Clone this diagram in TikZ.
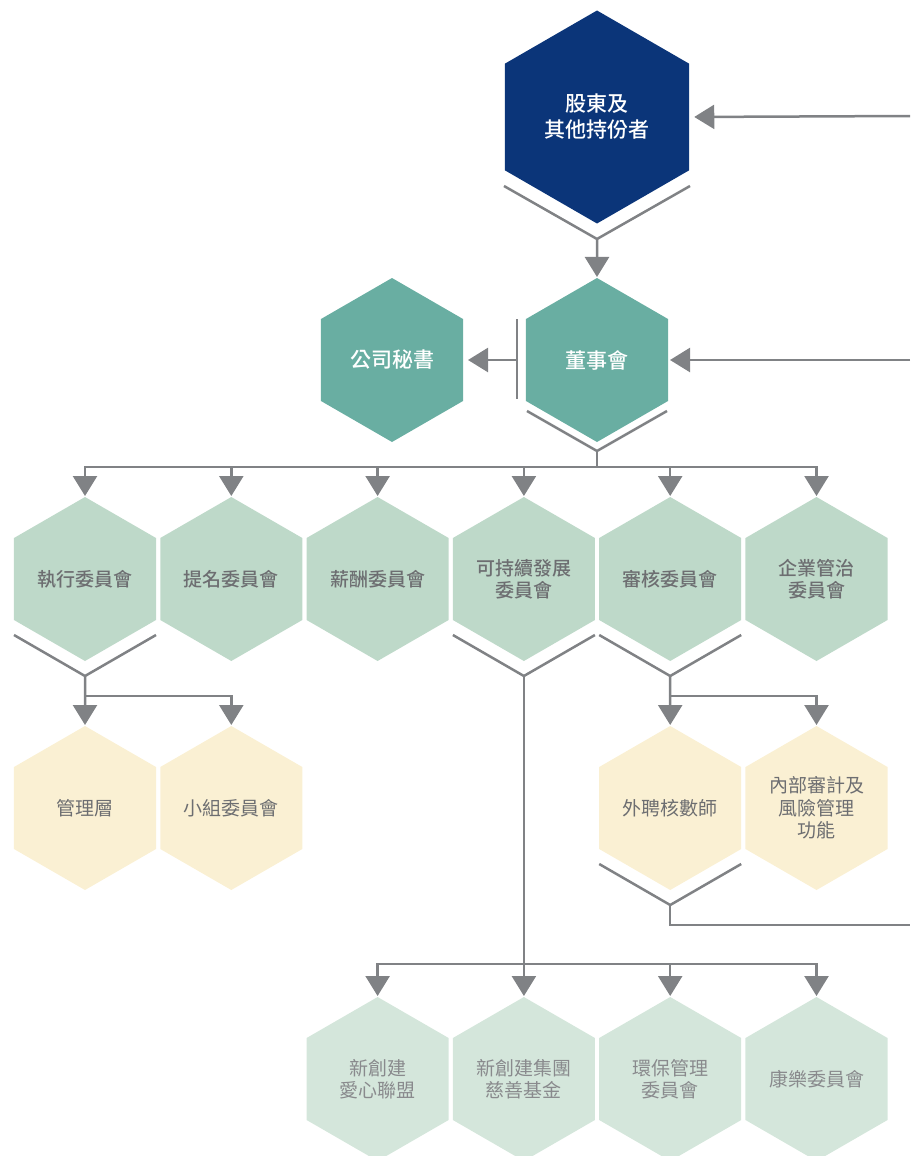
\documentclass[tikz,border=0pt]{standalone}
\usepackage{fontspec}
\setmainfont{Noto Sans CJK TC}[BoldFont={Noto Sans CJK TC Medium}]
\usetikzlibrary{arrows.meta, shapes.geometric, positioning, calc}

\definecolor{hexnavy}{HTML}{0B3579}
\definecolor{hexteal}{HTML}{69AEA2}
\definecolor{hexgreen}{HTML}{BED9C9}
\definecolor{hexyellow}{HTML}{FAF0D3}
\definecolor{hexpale}{HTML}{D4E6DB}
\definecolor{linegrey}{HTML}{808285}
\definecolor{txtgrey}{HTML}{6D6E71}
\definecolor{txtlight}{HTML}{898A8D}

\begin{document}
\begin{tikzpicture}[x=1pt, y=-1pt, on grid, node distance=146.3pt,
	hex/.style={regular polygon, regular polygon sides=6, shape border rotate=30,
		minimum size=164pt, inner sep=0pt, outer sep=0pt, align=center},
	navyhex/.style={hex, fill=hexnavy, minimum size=213pt, text=white,
		font=\fontsize{21}{26}\selectfont\bfseries},
	tealhex/.style={hex, fill=hexteal, text=white, font=\fontsize{21}{26}\selectfont\bfseries},
	greenhex/.style={hex, fill=hexgreen, text=txtgrey, font=\fontsize{19}{22}\selectfont\bfseries},
	yellowhex/.style={hex, fill=hexyellow, text=txtgrey, font=\fontsize{19}{22.5}\selectfont},
	palehex/.style={hex, fill=hexpale, text=txtlight, font=\fontsize{19}{22}\selectfont},
	link/.style={draw=linegrey, line width=2.5pt},
	arr/.style={link, shorten >=1pt, -{Triangle[width=24pt,length=20pt]}}]
	\useasboundingbox (0,0) rectangle (910,1156);

	\node[navyhex] (sh) at (597,117) {股東及\\其他持份者};
	\node[tealhex, below=243pt of sh] (bod) {董事會};
	\node[tealhex, left=205pt of bod] (cosec) {公司秘書};

	\node[greenhex] (exe) at (85,579) {執行委員會};
	\node[greenhex, right=of exe] (nom) {提名委員會};
	\node[greenhex, right=of nom] (rem) {薪酬委員會};
	\node[greenhex, right=of rem] (sus) {可持續發展\\委員會};
	\node[greenhex, right=of sus] (aud) {審核委員會};
	\node[greenhex, right=of aud] (cg) {企業管治\\委員會};

	\node[yellowhex, below=229pt of exe] (mgmt) {管理層};
	\node[yellowhex, right=of mgmt] (sub) {小組委員會};
	\node[yellowhex, below=229pt of aud] (ext) {外聘核數師};
	\node[yellowhex, right=of ext] (ira) {內部審計及\\風險管理\\功能};

	\node[palehex, below=500pt of rem] (love) {新創建\\愛心聯盟};
	\node[palehex, right=of love] (fund) {新創建集團\\慈善基金};
	\node[palehex, right=of fund] (env) {環保管理\\委員會};
	\node[palehex, right=of env] (rec) {康樂委員會};

	% V marks under the hexagons
	\coordinate (shv) at ($(sh)+(0,122)$);
	\coordinate (bodv) at ($(bod)+(0,91)$);
	\draw[link] ($(sh)+(-93,69)$) -- (shv) -- ($(sh)+(93,69)$);
	\draw[link] ($(bod)+(-70,51)$) -- (bodv) -- ($(bod)+(70,51)$);
	\foreach \n in {exe, sus, aud, ext} {
		\coordinate (\n v) at ($(\n)+(0,97)$);
		\draw[link] ($(\n)+(-71,56)$) -- (\n v) -- ($(\n)+(71,56)$);
	}

	% lines coming in from the right
	\coordinate (edge1) at (910,116);
	\coordinate (edge2) at (910,360);
	\coordinate (edge3) at (910,925);
	\draw[arr, shorten >=5pt] (edge1) -- (sh.east);
	\draw[arr, shorten >=2pt] (edge2) -- (bod.east);
	\draw[link] (extv) |- (edge3);

	% board
	\draw[arr] (shv) -- (bod.north);
	\draw[link] ($(bod)+(-80,-41)$) -- ($(bod)+(-80,39)$);
	\draw[arr, shorten >=5pt] ($(bod)+(-80,0)$) -- (cosec.east);
	\coordinate (bodbar) at ($(bodv)+(0,16)$);
	\draw[link] (bodv) -- (bodbar);
	\foreach \n in {exe, nom, rem, sus, aud, cg}
		\draw[arr] (bodbar) -| (\n.north);

	% committees
	\draw[arr] (exev) -- (mgmt.north);
	\draw[arr] (exev) -- ($(exev)+(0,20)$) -| (sub.north);
	\draw[arr] (audv) -- (ext.north);
	\draw[arr] (audv) -- ($(audv)+(0,20)$) -| (ira.north);
	\coordinate (susbar) at ($(susv)+(0,288)$);
	\draw[link] (susv) -- (susbar);
	\foreach \n in {love, fund, env, rec}
		\draw[arr] (susbar) -| (\n.north);
\end{tikzpicture}
\end{document}
